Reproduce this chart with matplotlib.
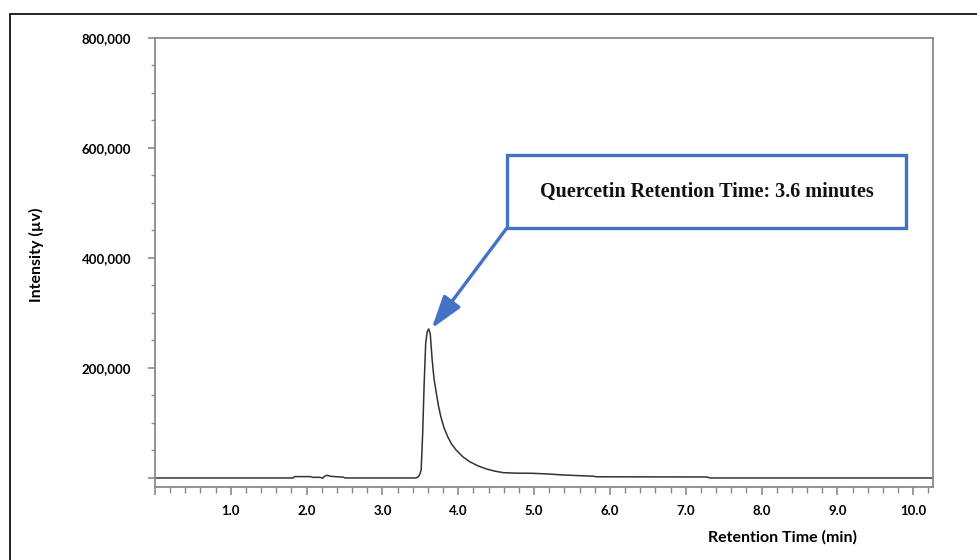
import matplotlib.pyplot as plt
from matplotlib.patches import Rectangle
from matplotlib.ticker import MultipleLocator, FuncFormatter

# chromatogram trace (retention time in min, intensity in uV)
time_min = [0.0, 1.82, 1.84, 2.05, 2.08, 2.18, 2.21, 2.24, 2.27, 2.32, 2.40, 2.48, 2.51,
            3.44, 3.47, 3.49, 3.51, 3.53, 3.55, 3.57, 3.59, 3.61, 3.63, 3.655, 3.68, 3.71,
            3.74, 3.77, 3.81, 3.86, 3.91, 3.97, 4.06, 4.15, 4.26, 4.37, 4.48, 4.59, 4.75, 4.98, 5.15,
            5.38, 5.55, 5.78, 5.82, 6.50, 7.28, 7.32, 10.26]
intensity = [0, 0, 2500, 2500, 1200, 1200, -500, 3500, 4800, 3000, 2200, 1500, 0,
             0, 2000, 6000, 14500, 81000, 173000, 245000, 266000, 271000, 262000, 215000, 180000, 154000,
             130000, 111000, 92000, 75000, 62000, 51000, 38500, 29600, 22000, 16400, 12500, 9700, 8800, 8500, 7500,
             5500, 4500, 3200, 2200, 2000, 1800, 0, 0]

y_ticks = [200000, 400000, 600000, 800000]
x_ticks = [1.0, 2.0, 3.0, 4.0, 5.0, 6.0, 7.0, 8.0, 9.0, 10.0]

peak_time = 3.65
peak_height = 272000
note = "Quercetin Retention Time: 3.6 minutes"

blue = "#4472C4"
grey = "#8a8a8a"

fig = plt.figure(figsize=(9.77, 5.6), dpi=100)
ax = fig.add_axes([155 / 977, 1 - 487 / 560, (933 - 155) / 977, (487 - 38) / 560])

ax.plot(time_min, intensity, color="#333333", lw=1.1)

ax.set_xlim(0, 10.26)
ax.set_ylim(-16400, 800000)

ax.xaxis.set_major_locator(MultipleLocator(1.0))
ax.xaxis.set_minor_locator(MultipleLocator(0.2))
ax.yaxis.set_major_locator(MultipleLocator(200000))
ax.yaxis.set_minor_locator(MultipleLocator(50000))
ax.xaxis.set_major_formatter(FuncFormatter(lambda v, p: f"{v:.1f}" if v in x_ticks else ""))
ax.yaxis.set_major_formatter(FuncFormatter(lambda v, p: f"{int(v):,}" if v in y_ticks else ""))

for s in ax.spines.values():
    s.set_color(grey)
    s.set_linewidth(1.3)

ax.tick_params(axis="x", which="major", length=6, width=1.2, color=grey, pad=7)
ax.tick_params(axis="x", which="minor", length=4, width=1.0, color=grey)
ax.tick_params(axis="y", which="major", length=5, width=1.2, color=grey, pad=12)
ax.tick_params(axis="y", which="minor", length=3, width=1.0, color=grey)
for lab in ax.get_xticklabels() + ax.get_yticklabels():
    lab.set_fontfamily("Lato")
    lab.set_fontweight("bold")
    lab.set_fontsize(9.5)
    lab.set_color("#000000")

fig.text(783 / 977, 1 - 537 / 560, "Retention Time (min)", ha="center", va="center",
         family="Lato", weight="bold", fontsize=11.5, color="#000000")
fig.text(36 / 977, 1 - 255 / 560, "Intensity (\u00b5v)", ha="center", va="center",
         rotation=90, family="Lato", weight="bold", fontsize=11.5, color="#000000")

# callout box and arrow
bx0, bx1 = 4.64, 9.91
by0, by1 = 454500, 587000
ax.add_patch(Rectangle((bx0, by0), bx1 - bx0, by1 - by0, fill=False,
                       edgecolor=blue, lw=2.4, zorder=5))
ax.text((bx0 + bx1) / 2, (by0 + by1) / 2, note, ha="center", va="center",
        family="Liberation Serif", weight="bold", fontsize=14.5, color="#111111")
ax.annotate("", xy=(peak_time, peak_height), xytext=(bx0, by0),
            arrowprops=dict(arrowstyle="-|>,head_length=1.0,head_width=0.32",
                            color=blue, lw=2.4, mutation_scale=20, shrinkA=0, shrinkB=0))

# outer frame
fig.patches.append(Rectangle((10 / 977, -0.1), 1.2, 1 - 14 / 560 + 0.1,
                             transform=fig.transFigure, fill=False,
                             edgecolor="#222222", lw=1.4))

fig.savefig("out.png", dpi=100)
